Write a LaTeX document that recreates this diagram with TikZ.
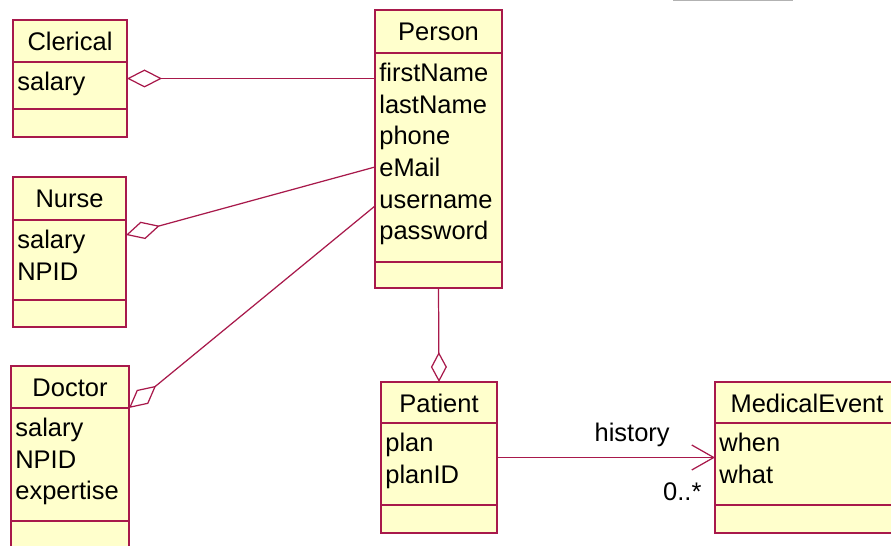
\documentclass[tikz,border=0pt]{standalone}
\usepackage{fontspec}
\setmainfont{Liberation Sans}
\usepackage{xcolor}
\definecolor{roseRed}{HTML}{A8194B}
\definecolor{roseFill}{HTML}{FFFFCC}
\usetikzlibrary{calc,arrows.meta}
\tikzset{
  classbox/.style={draw=roseRed, fill=roseFill, line width=1.1pt, inner sep=0pt, outer sep=0pt, anchor=north west},
  divider/.style={draw=roseRed, line width=1.1pt},
  assoc/.style={draw=roseRed, line width=0.7pt},
  classtext/.style={inner sep=0pt, font=\fontsize{14.5}{18}\selectfont},
  aggr/.style={Diamond[open, length=0.7cm, width=0.36cm]},
}

\begin{document}
\begin{tikzpicture}[x=0.02cm, y=-0.02cm]
  \clip (0,0) rectangle (891,546);
  \fill[white] (0,0) rectangle (891,546);
  % faint bar on the top edge
  \draw[black!30, line width=1pt] (673,0.5) -- (793,0.5);
  % classes: name/title/left/top/width/height/header/attribute block/attributes
  \foreach \nm/\ttl/\lx/\ty/\w/\h/\hh/\ah/\attrs in {clerical/Clerical/13/20/114/117/42/47/{salary},
      person/Person/375/10/127/278/43/209/{firstName,lastName,phone,eMail,username,password},
      nurse/Nurse/13/177/113/150/43/80/{salary,NPID},
      doctor/Doctor/11/366/118/200/42/113/{salary,NPID,expertise},
      patient/Patient/381/382/116/151/41/82/{plan,planID},
      medev/MedicalEvent/715/382/184/151/41/82/{when,what}} {
    \node[classbox, minimum width={\w*0.02cm}, minimum height={\h*0.02cm}] (\nm) at (\lx,\ty) {};
    \draw[divider] ({\lx},{\ty+\hh}) -- ({\lx+\w},{\ty+\hh});
    \draw[divider] ({\lx},{\ty+\hh+\ah}) -- ({\lx+\w},{\ty+\hh+\ah});
    \node[classtext, anchor=base] at ({\lx+\w/2},{\ty+31}) {\ttl};
    \foreach \a [count=\i] in \attrs
      \node[classtext, anchor=base west] at ({\lx+4},{\ty+\hh+28.5+(\i-1)*31.7}) {\a};
  }
  % aggregations towards Person
  \draw[assoc, {Diamond[open, length=0.7cm, width=0.36cm]}-] (clerical.east) -- (clerical.east -| person.west);
  \draw[assoc, {Diamond[open, length=0.7cm, width=0.36cm]}-] ($(nurse.north east)+(0,58)$) -- ($(person.north west)+(0,157)$);
  \draw[assoc, {Diamond[open, length=0.7cm, width=0.36cm]}-] ($(doctor.north east)+(0,42)$) -- ($(person.north west)+(0,196)$);
  \draw[assoc, -{Diamond[open, length=0.6cm, width=0.32cm]}] (person.south) -- (patient.north);
  % navigable association
  \draw[assoc, -{Straight Barb[length=0.44cm, width=0.5cm]}] (patient.east) -- (medev.west)
    node[classtext, pos=0.62, yshift=0.46cm] (history) {history}
    node[classtext, pos=0.85, yshift=-0.68cm] (mult) {0..*};
\end{tikzpicture}
\end{document}
